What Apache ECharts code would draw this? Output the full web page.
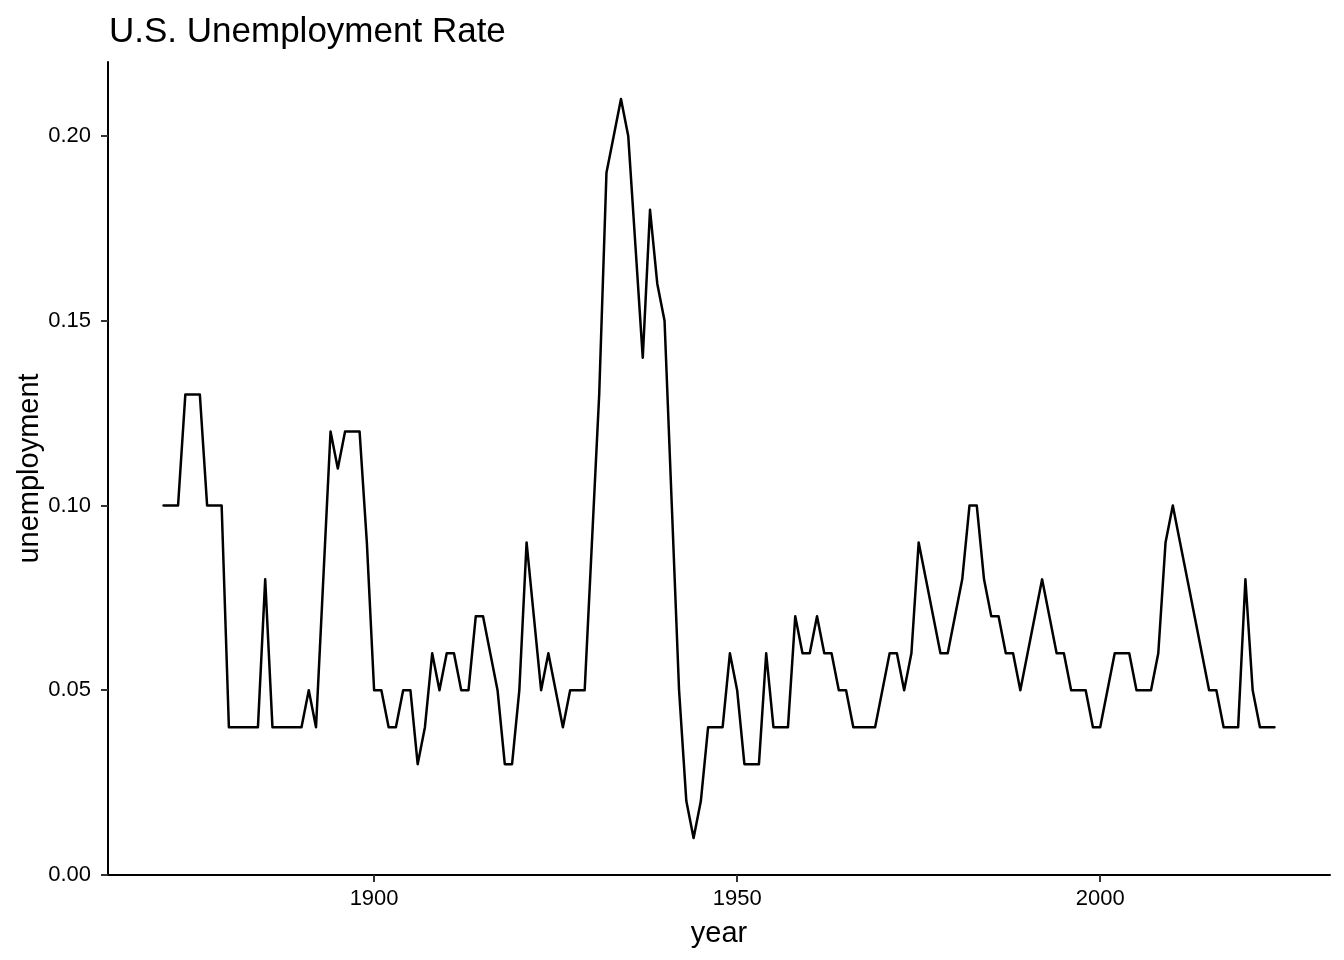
<!DOCTYPE html>
<html>
<head>
<meta charset="utf-8">
<script src="https://cdn.jsdelivr.net/npm/echarts@6/dist/echarts.min.js"></script>
<style>
html,body{margin:0;padding:0;background:#fff;}
#chart{width:1344px;height:960px;}
</style>
</head>
<body>
<div id="chart"></div>
<script>
const startYear = 1871;
const unemployment = [
  0.10,0.10,0.10,0.13,0.13,0.13,0.10,0.10,0.10,0.04, // 1871-1880
  0.04,0.04,0.04,0.04,0.08,0.04,0.04,0.04,0.04,0.04, // 1881-1890
  0.05,0.04,0.08,0.12,0.11,0.12,0.12,0.12,0.09,0.05, // 1891-1900
  0.05,0.04,0.04,0.05,0.05,0.03,0.04,0.06,0.05,0.06, // 1901-1910
  0.06,0.05,0.05,0.07,0.07,0.06,0.05,0.03,0.03,0.05, // 1911-1920
  0.09,0.07,0.05,0.06,0.05,0.04,0.05,0.05,0.05,0.09, // 1921-1930
  0.13,0.19,0.20,0.21,0.20,0.17,0.14,0.18,0.16,0.15, // 1931-1940
  0.10,0.05,0.02,0.01,0.02,0.04,0.04,0.04,0.06,0.05, // 1941-1950
  0.03,0.03,0.03,0.06,0.04,0.04,0.04,0.07,0.06,0.06, // 1951-1960
  0.07,0.06,0.06,0.05,0.05,0.04,0.04,0.04,0.04,0.05, // 1961-1970
  0.06,0.06,0.05,0.06,0.09,0.08,0.07,0.06,0.06,0.07, // 1971-1980
  0.08,0.10,0.10,0.08,0.07,0.07,0.06,0.06,0.05,0.06, // 1981-1990
  0.07,0.08,0.07,0.06,0.06,0.05,0.05,0.05,0.04,0.04, // 1991-2000
  0.05,0.06,0.06,0.06,0.05,0.05,0.05,0.06,0.09,0.10, // 2001-2010
  0.09,0.08,0.07,0.06,0.05,0.05,0.04,0.04,0.04,0.08, // 2011-2020
  0.05,0.04,0.04,0.04                                 // 2021-2024
];
const years = unemployment.map((_, i) => startYear + i);
const xTicks = [1900, 1950, 2000];
const yTicks = [0, 0.05, 0.10, 0.15, 0.20];

const FONT = 'Liberation Sans, Arial, Helvetica, sans-serif';
const chart = echarts.init(document.getElementById('chart'), null, {renderer: 'canvas'});
const xMin = 1871 - 0.05 * (2024 - 1871);
const xMax = 2024 + 0.05 * (2024 - 1871);

chart.setOption({
  animation: false,
  backgroundColor: '#ffffff',
  title: {
    text: 'U.S. Unemployment Rate',
    left: 104,
    top: 10,
    textStyle: {fontFamily: FONT, fontSize: 35, fontWeight: 'normal', color: '#000'}
  },
  grid: {left: 108, right: 14, top: 62, bottom: 85, containLabel: false},
  xAxis: {
    type: 'value',
    min: xMin,
    max: xMax,
    name: 'year',
    nameLocation: 'middle',
    nameGap: 44,
    nameMoveOverlap: false,
    nameTextStyle: {fontFamily: FONT, fontSize: 29, color: '#000'},
    splitLine: {show: false},
    axisLine: {show: true, onZero: false, lineStyle: {color: '#000', width: 2}},
    axisTick: {show: true, length: 7, customValues: xTicks, lineStyle: {color: '#333', width: 2}},
    axisLabel: {
      customValues: xTicks, margin: 13, fontFamily: FONT, fontSize: 22, color: '#000',
      formatter: v => String(Math.round(v))
    }
  },
  yAxis: {
    type: 'value',
    min: 0,
    max: 0.22,
    name: 'unemployment',
    nameLocation: 'middle',
    nameGap: 64,
    nameMoveOverlap: false,
    nameRotate: 90,
    nameTextStyle: {fontFamily: FONT, fontSize: 29, color: '#000'},
    splitLine: {show: false},
    axisLine: {show: true, lineStyle: {color: '#000', width: 2}},
    axisTick: {show: true, length: 7, customValues: yTicks, lineStyle: {color: '#333', width: 2}},
    axisLabel: {
      customValues: yTicks, margin: 17, fontFamily: FONT, fontSize: 22, color: '#000',
      formatter: v => v.toFixed(2)
    }
  },
  series: [{
    type: 'line',
    data: years.map((y, i) => [y, unemployment[i]]),
    showSymbol: false,
    symbol: 'none',
    lineStyle: {color: '#000', width: 2.5, join: 'round', cap: 'round'},
    silent: true
  }]
});
</script>
</body>
</html>
